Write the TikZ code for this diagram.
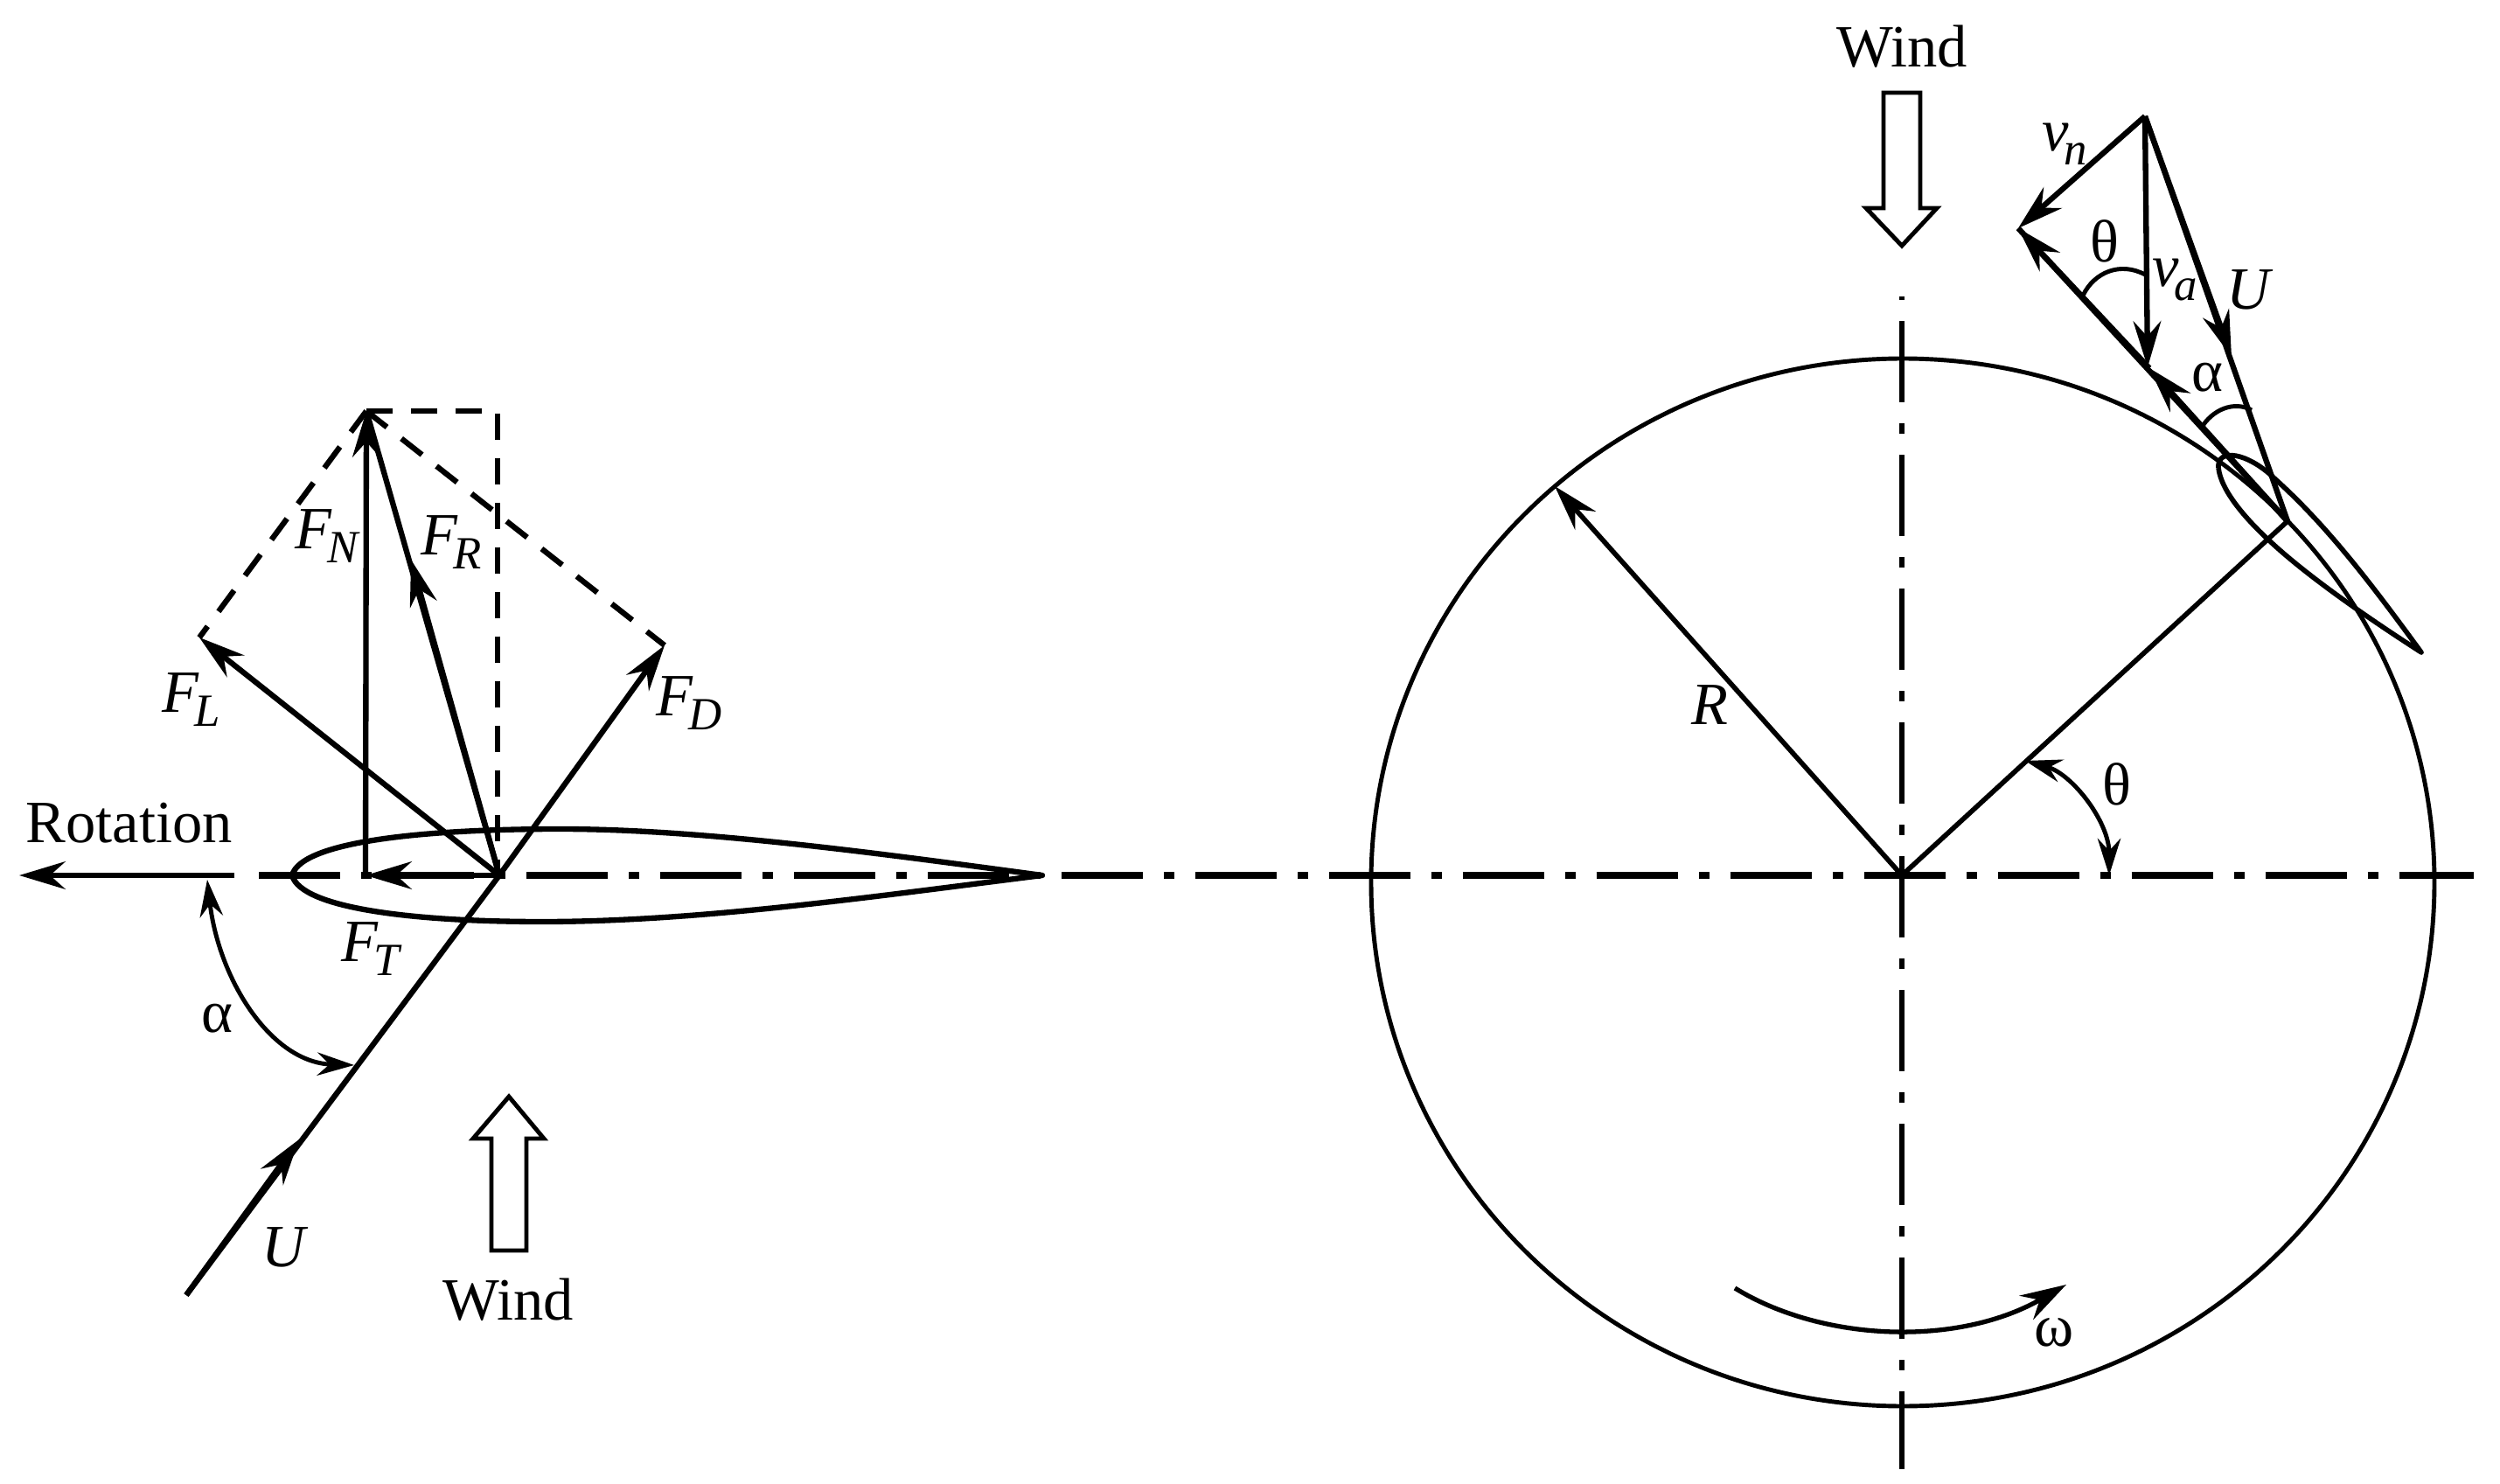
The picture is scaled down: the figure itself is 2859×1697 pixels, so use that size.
\documentclass[tikz,border=0pt]{standalone}
\usepackage{fontspec}
\setmainfont{Liberation Serif}
\usetikzlibrary{arrows.meta}
\newcommand{\vsub}[2]{\textit{#1}\kern-1.5pt\raisebox{-0.5ex}{\fontsize{15}{15}\selectfont\textit{#2}}}
\tikzset{
  vec/.style={line width=1.8pt,-{Stealth[length=15pt,width=9pt,inset=5pt]}},
  dblvec/.style={line width=1.4pt,{Stealth[length=12pt,width=7.5pt,inset=4pt]}-{Stealth[length=12pt,width=7.5pt,inset=4pt]}},
  bar/.style={line width=1.8pt,line join=round},
  thin bar/.style={line width=1.4pt},
  axisline/.style={line width=2pt,dash pattern=on 26.5pt off 6.8pt on 3.4pt off 6.8pt},
  dashline/.style={line width=1.8pt,dash pattern=on 8.5pt off 6pt},
  lab/.style={font=\fontsize{19.5}{22}\selectfont,inner sep=0pt}
}
\begin{document}
\begin{tikzpicture}[x=0.01cm,y=-0.01cm]
\useasboundingbox (0,0) rectangle (2859,1697);
\coordinate (O) at (571,1001);
\coordinate (ft) at (418,1001);
\coordinate (top) at (419,470);
\coordinate (fl) at (228,729);
\coordinate (fd) at (760,738);
\coordinate (fr) at (470,640);
\coordinate (ustart) at (213,1481);
\coordinate (umid) at (342,1303);
\coordinate (corner) at (569,470);
\coordinate (foot) at (569,1001);
\coordinate (rottip) at (22,1001);
\coordinate (rotend) at (268,1001);
\coordinate (C) at (2175,1001);
\coordinate (Rtip) at (1778,556);
\coordinate (blade) at (2616,596);
\coordinate (apex) at (2453,133);
\coordinate (vn) at (2308,261);
\coordinate (va) at (2456,420);
\coordinate (vr) at (2458,421);
\coordinate (Umid) at (2552,408);
\draw[axisline] (296,1001) -- (2829,1001);
\draw[axisline,line width=1.6pt,dash phase=35.5pt] (2175,339) -- (2175,1680);
\draw[thin bar] (2176,1009) ellipse (608 and 599);
\draw[bar] (334,1001) .. controls (345,960) and (500,948) .. (640,948) .. controls (800,948) and (1000,975) .. (1192,1001) .. controls (1000,1025) and (800,1054) .. (620,1054) .. controls (480,1054) and (345,1040) .. (334,1001);
\draw[vec] (rotend) -- (rottip);
\draw[vec] (O) -- (ft);
\draw[vec] (ft) -- (top);
\draw[vec] (O) -- (fl);
\draw[vec] (O) -- (fd);
\draw[bar] (O) -- (top);
\draw[vec] (O) -- (fr);
\draw[bar] (ustart) -- (O);
\draw[vec] (ustart) -- (umid);
\draw[dashline] (top) -- (fl);
\draw[dashline] (top) -- (fd);
\draw[dashline] (top) -- (corner) -- (foot);
\draw[dblvec] (237,1006) .. controls (250,1120) and (310,1215) .. (405,1218);
\draw[line width=1.4pt] (562,1430) -- (602,1430) -- (602,1302) -- (622,1302) -- (582,1254) -- (541,1302) -- (562,1302) -- cycle;
\node[lab] (rotlab) at (148,941) {Rotation};
\node[lab] (windl) at (581,1486) {Wind};
\node[lab] (alphal) at (248,1165) {α};
\node[lab] (ul) at (326,1426) {\textit{U}};
\node[lab] (ftl) at (425,1085) {\vsub{F}{T}};
\node[lab] (fnl) at (375,613) {\vsub{F}{N}};
\node[lab] (frl) at (516,620) {\vsub{F}{R}};
\node[lab] (fll) at (219,800) {\vsub{F}{L}};
\node[lab] (fdl) at (788,804) {\vsub{F}{D}};
\draw[vec,line width=1.6pt] (C) -- (Rtip);
\draw[bar,line width=1.6pt] (C) -- (blade);
\draw[bar,line width=1.6pt] (2537,535) .. controls (2535,512) and (2570,517) .. (2601,547) .. controls (2660,600) and (2710,665) .. (2769,746) .. controls (2710,708) and (2640,660) .. (2596,619) .. controls (2570,595) and (2540,562) .. (2537,535);
\draw[vec] (apex) -- (vn);
\draw[vec] (apex) -- (va);
\draw[bar] (apex) -- (blade);
\draw[vec] (apex) -- (Umid);
\draw[bar] (blade) -- (vn);
\draw[vec] (blade) -- (vr);
\draw[vec] (vr) -- (vn);
\draw[thin bar] (2382,338) .. controls (2395,311) and (2425,299) .. (2453,314);
\draw[thin bar] (2517,490) .. controls (2530,468) and (2555,458) .. (2575,469);
\draw[dblvec] (2316,870) .. controls (2370,885) and (2412,940) .. (2412,1001);
\draw[vec,line width=1.5pt] (1984,1473) .. controls (2085,1535) and (2240,1540) .. (2363,1469);
\draw[line width=1.4pt] (2154,106) -- (2196,106) -- (2196,238) -- (2215,238) -- (2175,281) -- (2134,238) -- (2154,238) -- cycle;
\node[lab] (windr) at (2175,53) {Wind};
\node[lab] (vnl) at (2361,165) {\vsub{v}{n}};
\node[lab] (thetaa) at (2407,276) {θ};
\node[lab] (val) at (2487,320) {\vsub{v}{a}};
\node[lab] (uu) at (2573,331) {\textit{U}};
\node[lab] (alphar) at (2524,432) {α};
\node[lab] (thetab) at (2421,897) {θ};
\node[lab] (rl) at (1955,806) {\textit{R}};
\node[lab] (oml) at (2349,1524) {ω};
\end{tikzpicture}
\end{document}
